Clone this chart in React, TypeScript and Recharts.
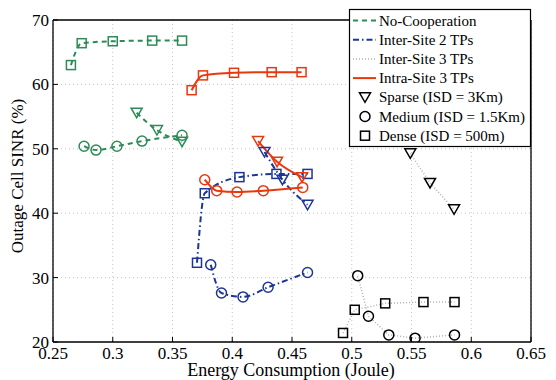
import React from 'react';
import { ComposedChart, Line, XAxis, YAxis, CartesianGrid } from 'recharts';

const GREEN = '#2e8b57';
const RED = '#e8380d';
const BLUE = '#1c3597';
const BLACK = '#000000';
const GRAY = '#b0b0b0';
const FONT = "'Liberation Serif', 'Times New Roman', 'DejaVu Serif', serif";

const xTicks = [0.25, 0.3, 0.35, 0.4, 0.45, 0.5, 0.55, 0.6, 0.65];
const yTicks = [20, 30, 40, 50, 60, 70];

// No-Cooperation
const noCoopDenseX = [0.265, 0.274, 0.3, 0.333, 0.358];
const noCoopDenseY = [63.0, 66.4, 66.7, 66.8, 66.8];
const noCoopMediumX = [0.276, 0.286, 0.3035, 0.3245, 0.358];
const noCoopMediumY = [50.4, 49.8, 50.4, 51.2, 52.1];
const noCoopSparseX = [0.32, 0.337, 0.358];
const noCoopSparseY = [55.6, 52.9, 51.1];

// Intra-Site 3 TPs
const intra3DenseX = [0.366, 0.3755, 0.4015, 0.433, 0.458];
const intra3DenseY = [59.1, 61.4, 61.8, 61.9, 61.9];
const intra3MediumX = [0.377, 0.387, 0.404, 0.426, 0.459];
const intra3MediumY = [45.2, 43.5, 43.3, 43.5, 44.0];
const intra3SparseX = [0.4216, 0.4375, 0.4584];
const intra3SparseY = [51.2, 48.0, 45.6];

// Inter-Site 2 TPs
const inter2DenseX = [0.3705, 0.377, 0.406, 0.437, 0.463];
const inter2DenseY = [32.3, 43.1, 45.6, 46.1, 46.1];
const inter2MediumX = [0.382, 0.391, 0.409, 0.43, 0.463];
const inter2MediumY = [32.0, 27.6, 27.0, 28.5, 30.8];
const inter2SparseX = [0.427, 0.442, 0.463];
const inter2SparseY = [49.5, 45.2, 41.3];

// Inter-Site 3 TPs
const inter3DenseX = [0.4927, 0.5025, 0.528, 0.56, 0.586];
const inter3DenseY = [21.4, 25.0, 26.0, 26.2, 26.2];
const inter3MediumX = [0.505, 0.514, 0.531, 0.553, 0.586];
const inter3MediumY = [30.3, 24.0, 21.1, 20.6, 21.1];
const inter3SparseX = [0.549, 0.5655, 0.5856];
const inter3SparseY = [49.3, 44.7, 40.6];

const zip = (xs: number[], ys: number[]) => xs.map((x, i) => ({ x, y: ys[i] }));

type Marker = 'tri' | 'circle' | 'square';

const markerShape = (marker: Marker, cx: number, cy: number, color: string, key?: any) => {
  if (marker === 'tri') {
    return (
      <path key={key} d={`M${cx - 5.5},${cy - 4.5} L${cx + 5.5},${cy - 4.5} L${cx},${cy + 5} Z`}
        fill="none" stroke={color} strokeWidth={1.5} />
    );
  }
  if (marker === 'circle') {
    return <circle key={key} cx={cx} cy={cy} r={5} fill="none" stroke={color} strokeWidth={1.5} />;
  }
  return <rect key={key} x={cx - 4.5} y={cy - 4.5} width={9} height={9} fill="none" stroke={color} strokeWidth={1.5} />;
};

const makeDot = (marker: Marker, color: string) => (props: any) => {
  const { cx, cy, index } = props;
  if (cx == null || cy == null) return <g key={index} />;
  return markerShape(marker, cx, cy, color, index);
};

interface Style {
  stroke: string;
  markerColor: string;
  dash?: string;
  width: number;
  curve: 'monotone' | 'linear';
}

const styles: Record<string, Style> = {
  noCoop: { stroke: GREEN, markerColor: GREEN, dash: '5 4', width: 2, curve: 'monotone' },
  inter2: { stroke: BLUE, markerColor: BLUE, dash: '6 3 1.5 3', width: 2, curve: 'monotone' },
  inter3: { stroke: GRAY, markerColor: BLACK, dash: '1 2', width: 1.5, curve: 'linear' },
  intra3: { stroke: RED, markerColor: RED, width: 2, curve: 'monotone' },
};

const series: { id: string; style: string; marker: Marker; data: { x: number; y: number }[] }[] = [
  { id: 'nc-d', style: 'noCoop', marker: 'square', data: zip(noCoopDenseX, noCoopDenseY) },
  { id: 'nc-m', style: 'noCoop', marker: 'circle', data: zip(noCoopMediumX, noCoopMediumY) },
  { id: 'nc-s', style: 'noCoop', marker: 'tri', data: zip(noCoopSparseX, noCoopSparseY) },
  { id: 'i3-d', style: 'inter3', marker: 'square', data: zip(inter3DenseX, inter3DenseY) },
  { id: 'i3-m', style: 'inter3', marker: 'circle', data: zip(inter3MediumX, inter3MediumY) },
  { id: 'i3-s', style: 'inter3', marker: 'tri', data: zip(inter3SparseX, inter3SparseY) },
  { id: 'i2-d', style: 'inter2', marker: 'square', data: zip(inter2DenseX, inter2DenseY) },
  { id: 'i2-m', style: 'inter2', marker: 'circle', data: zip(inter2MediumX, inter2MediumY) },
  { id: 'i2-s', style: 'inter2', marker: 'tri', data: zip(inter2SparseX, inter2SparseY) },
  { id: 'a3-d', style: 'intra3', marker: 'square', data: zip(intra3DenseX, intra3DenseY) },
  { id: 'a3-m', style: 'intra3', marker: 'circle', data: zip(intra3MediumX, intra3MediumY) },
  { id: 'a3-s', style: 'intra3', marker: 'tri', data: zip(intra3SparseX, intra3SparseY) },
];

const legendLines = [
  { label: 'No-Cooperation', style: 'noCoop' },
  { label: 'Inter-Site 2 TPs', style: 'inter2' },
  { label: 'Inter-Site 3 TPs', style: 'inter3' },
  { label: 'Intra-Site 3 TPs', style: 'intra3' },
];
const legendMarkers: { label: string; marker: Marker }[] = [
  { label: 'Sparse (ISD = 3Km)', marker: 'tri' },
  { label: 'Medium (ISD = 1.5Km)', marker: 'circle' },
  { label: 'Dense (ISD = 500m)', marker: 'square' },
];

const tickStyle = { fontSize: 17, fill: '#000', style: { fontFamily: FONT } };
const axisLine = { stroke: '#000', strokeWidth: 1.3 };
const tickLine = { stroke: '#000', strokeWidth: 1 };

export default function App() {
  return (
    <div style={{ position: 'absolute', left: 0, top: 0, width: 556, height: 380, background: '#fff', fontFamily: FONT }}>
      <ComposedChart width={556} height={380} margin={{ top: 19, right: 24, bottom: 8, left: 8 }}
        style={{ fontFamily: FONT }}>
        <CartesianGrid stroke="#c4c4c4" strokeDasharray="1 3" />
        <XAxis type="number" dataKey="x" domain={[0.25, 0.65]} ticks={xTicks} allowDataOverflow
          height={30} tickSize={-5} tickMargin={10} tick={tickStyle} axisLine={axisLine} tickLine={tickLine} />
        <XAxis xAxisId="top" orientation="top" type="number" dataKey="x" domain={[0.25, 0.65]} ticks={xTicks}
          allowDataOverflow height={1} tickSize={-5} tick={false} axisLine={axisLine} tickLine={tickLine} />
        <YAxis type="number" domain={[20, 70]} ticks={yTicks} allowDataOverflow width={45}
          tickSize={-5} tickMargin={9} tick={tickStyle} axisLine={axisLine} tickLine={tickLine} />
        <YAxis yAxisId="right" orientation="right" type="number" domain={[20, 70]} ticks={yTicks}
          allowDataOverflow width={1} tickSize={-5} tick={false} axisLine={axisLine} tickLine={tickLine} />
        {series.map((s) => {
          const st = styles[s.style];
          return (
            <Line key={s.id} data={s.data} dataKey="y" type={st.curve} stroke={st.stroke}
              strokeWidth={st.width} strokeDasharray={st.dash} dot={makeDot(s.marker, st.markerColor)}
              activeDot={false} isAnimationActive={false} />
          );
        })}
      </ComposedChart>
      <svg width={556} height={380} style={{ position: 'absolute', left: 0, top: 0, pointerEvents: 'none', fontFamily: FONT }}>
        <text x={291} y={376} textAnchor="middle" fontSize={18}>Energy Consumption (Joule)</text>
        <text x={23} y={176} textAnchor="middle" fontSize={17} transform="rotate(-90, 23, 176)">
          Outage Cell SINR (%)
        </text>
        <rect x={349.5} y={9.5} width={181} height={137} fill="#fff" stroke="#000" strokeWidth={1.2} />
        {legendLines.map((l, i) => {
          const st = styles[l.style];
          const base = 25.5 + i * 19.2;
          return (
            <g key={l.label}>
              <line x1={353} x2={376} y1={base - 5} y2={base - 5} stroke={st.stroke} strokeWidth={st.width}
                strokeDasharray={st.dash} />
              <text x={379} y={base} fontSize={15}>{l.label}</text>
            </g>
          );
        })}
        {legendMarkers.map((m, i) => {
          const base = 25.5 + (i + 4) * 19.2;
          return (
            <g key={m.label}>
              {markerShape(m.marker, 365, base - 5, BLACK)}
              <text x={379} y={base} fontSize={15}>{m.label}</text>
            </g>
          );
        })}
      </svg>
    </div>
  );
}
